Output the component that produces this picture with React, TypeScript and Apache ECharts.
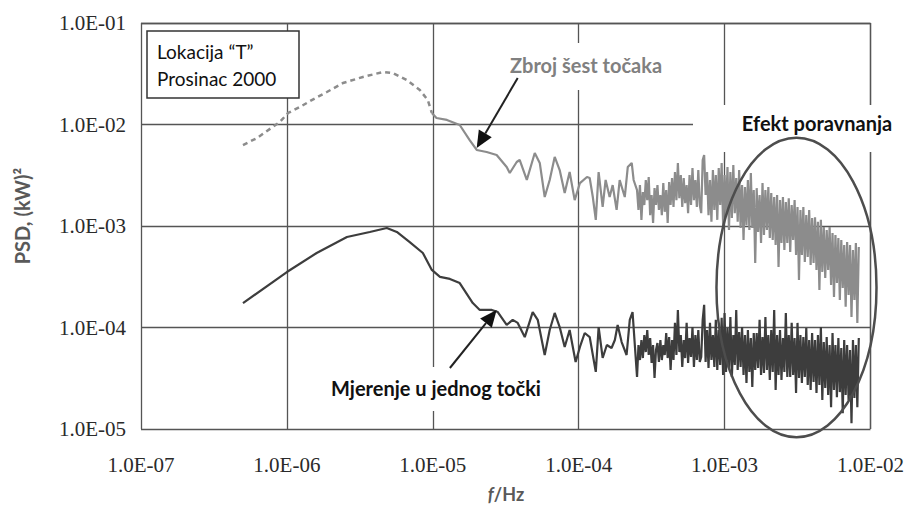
import React, { useEffect, useRef } from "react";
import * as echarts from "echarts";

// Summed spectrum of six points ("Zbroj šest točaka"), frequency in Hz, PSD in (kW)^2
const sumFreq = [
  5.0e-7, 6.24e-7, 8.95e-7, 1.02e-6, 1.23e-6, 1.48e-6, 1.88e-6, 2.42e-6, 3.32e-6, 4.55e-6,
  5.32e-6, 6.64e-6, 8.15e-6, 9.24e-6, 9.85e-6, 1.06e-5, 1.25e-5, 1.53e-5, 1.79e-5, 2.0e-5,
  2.34e-5, 2.74e-5, 3.21e-5, 3.37e-5, 3.76e-5, 3.94e-5, 4.41e-5, 5.0e-5, 5.41e-5, 5.85e-5,
  6.33e-5, 6.85e-5, 7.41e-5, 8.02e-5, 8.67e-5, 9.39e-5, 1.02e-4, 1.14e-4, 1.19e-4, 1.25e-4,
  1.31e-4, 1.37e-4, 1.46e-4, 1.53e-4, 1.63e-4, 1.71e-4, 1.82e-4, 1.91e-4, 2.07e-4, 2.17e-4,
  2.31e-4, 2.38e-4,
];
const sumPsd = [
  6.28e-3, 7.36e-3, 1.06e-2, 1.3e-2, 1.49e-2, 1.74e-2, 2.09e-2, 2.56e-2, 2.94e-2, 3.29e-2,
  3.21e-2, 2.74e-2, 2.19e-2, 1.74e-2, 1.3e-2, 1.16e-2, 1.11e-2, 9.89e-3, 7.03e-3, 5.61e-3,
  5.36e-3, 5.01e-3, 3.81e-3, 3.33e-3, 4.27e-3, 4.47e-3, 2.84e-3, 5.24e-3, 4.18e-3, 1.93e-3,
  2.84e-3, 4.79e-3, 3.56e-3, 2.11e-3, 3.4e-3, 1.8e-3, 2.65e-3, 3.04e-3, 2.97e-3, 1.93e-3,
  1.15e-3, 3.4e-3, 1.54e-3, 2.84e-3, 1.93e-3, 2.53e-3, 1.44e-3, 2.84e-3, 1.93e-3, 3.81e-3,
  4.18e-3, 2.84e-3,
];

// Single measurement point ("Mjerenje u jednog točki")
const singleFreq = [
  5.0e-7, 1.0e-6, 1.6e-6, 2.58e-6, 3.7e-6, 4.84e-6, 5.67e-6, 6.95e-6, 8.55e-6, 9.85e-6,
  1.12e-5, 1.31e-5, 1.53e-5, 1.88e-5, 2.1e-5, 2.54e-5, 2.79e-5, 3.21e-5, 3.53e-5, 3.82e-5,
  4.27e-5, 4.84e-5, 5.24e-5, 5.85e-5, 6.33e-5, 6.85e-5, 7.41e-5, 8.02e-5, 8.67e-5, 9.53e-5,
  1.02e-4, 1.1e-4, 1.19e-4, 1.31e-4, 1.37e-4, 1.46e-4, 1.56e-4, 1.68e-4, 1.77e-4, 1.85e-4,
  1.97e-4, 2.13e-4, 2.24e-4, 2.34e-4,
];
const singlePsd = [
  1.74e-4, 3.52e-4, 5.42e-4, 7.8e-4, 8.73e-4, 9.55e-4, 8.73e-4, 6.95e-4, 5.42e-4, 3.69e-4,
  3.15e-4, 3.01e-4, 2.74e-4, 1.74e-4, 1.49e-4, 1.49e-4, 1.42e-4, 1.06e-4, 1.19e-4, 1.11e-4,
  8.05e-5, 1.42e-4, 1.19e-4, 5.36e-5, 9.45e-5, 1.39e-4, 1.01e-4, 6.43e-5, 9.45e-5, 4.57e-5,
  6.43e-5, 8.83e-5, 8.05e-5, 3.65e-5, 1.01e-4, 5.01e-5, 6.72e-5, 6.28e-5, 7.53e-5, 1.06e-4,
  7.19e-5, 5.36e-5, 1.19e-4, 1.42e-4,
];

// High-frequency band (dense FFT bins), shared by both spectra
const bandFreq = [
  2.512e-4, 2.57e-4, 2.63e-4, 2.692e-4, 2.754e-4, 2.818e-4, 2.884e-4, 2.951e-4, 3.02e-4, 3.09e-4,
  3.162e-4, 3.236e-4, 3.311e-4, 3.388e-4, 3.467e-4, 3.548e-4, 3.631e-4, 3.715e-4, 3.802e-4, 3.89e-4,
  3.981e-4, 4.074e-4, 4.169e-4, 4.266e-4, 4.365e-4, 4.467e-4, 4.571e-4, 4.677e-4, 4.786e-4, 4.898e-4,
  5.012e-4, 5.129e-4, 5.248e-4, 5.37e-4, 5.495e-4, 5.623e-4, 5.754e-4, 5.888e-4, 6.026e-4, 6.166e-4,
  6.31e-4, 6.457e-4, 6.607e-4, 6.761e-4,
  6.918e-4, 7.079e-4, 7.244e-4, 7.413e-4, 7.586e-4, 7.762e-4, 7.943e-4, 8.128e-4, 8.318e-4, 8.511e-4,
  8.71e-4, 8.913e-4, 9.12e-4, 9.333e-4, 9.55e-4, 9.772e-4, 1.0e-3, 1.023e-3, 1.047e-3, 1.072e-3,
  1.096e-3, 1.122e-3, 1.148e-3, 1.175e-3, 1.202e-3, 1.23e-3, 1.259e-3, 1.288e-3, 1.318e-3, 1.349e-3,
  1.38e-3, 1.413e-3, 1.445e-3, 1.479e-3, 1.514e-3, 1.549e-3, 1.585e-3, 1.622e-3, 1.66e-3, 1.698e-3,
  1.738e-3, 1.778e-3, 1.82e-3, 1.862e-3, 1.905e-3, 1.95e-3, 1.995e-3, 2.042e-3, 2.089e-3, 2.138e-3,
  2.188e-3, 2.239e-3, 2.291e-3, 2.344e-3, 2.399e-3, 2.455e-3, 2.512e-3, 2.57e-3, 2.63e-3, 2.692e-3,
  2.754e-3, 2.818e-3, 2.884e-3, 2.951e-3, 3.02e-3, 3.09e-3, 3.162e-3, 3.236e-3, 3.311e-3, 3.388e-3,
  3.467e-3, 3.548e-3, 3.631e-3, 3.715e-3, 3.802e-3, 3.89e-3, 3.981e-3, 4.074e-3, 4.169e-3, 4.266e-3,
  4.365e-3, 4.467e-3, 4.571e-3, 4.677e-3, 4.786e-3, 4.898e-3, 5.012e-3, 5.129e-3, 5.248e-3, 5.37e-3,
  5.495e-3, 5.623e-3, 5.754e-3, 5.888e-3, 6.026e-3, 6.166e-3, 6.31e-3, 6.457e-3, 6.607e-3, 6.761e-3,
  6.918e-3, 7.079e-3, 7.244e-3, 7.413e-3, 7.586e-3, 7.762e-3, 7.943e-3, 8.128e-3, 8.318e-3,
];
const sumBandPsd = [
  2.26e-3, 1.44e-3, 2.53e-3, 1.15e-3, 2.16e-3, 1.61e-3, 2.84e-3, 1.8e-3, 3.04e-3, 1.28e-3,
  2.02e-3, 1.07e-3, 2.36e-3, 1.61e-3, 2.53e-3, 1.44e-3, 2.02e-3, 1.28e-3, 2.65e-3, 1.38e-3,
  2.26e-3, 1.07e-3, 2.71e-3, 1.61e-3, 2.97e-3, 1.54e-3, 3.4e-3, 1.8e-3, 4.18e-3, 1.88e-3,
  3.18e-3, 1.54e-3, 2.97e-3, 1.68e-3, 2.53e-3, 1.34e-3, 3.18e-3, 1.61e-3, 3.73e-3, 1.8e-3,
  2.84e-3, 1.54e-3, 3.56e-3, 1.61e-3,
  1.34e-3, 4.47e-3, 5.01e-3, 2.02e-3, 3.4e-3, 1.28e-3, 2.84e-3, 1.1e-3, 3.56e-3, 1.44e-3,
  3.18e-3, 1.15e-3, 3.73e-3, 1.61e-3, 4.18e-3, 1.02e-3, 3.18e-3, 1.28e-3, 3.81e-3, 9.14e-4,
  3.4e-3, 1.2e-3, 3.99e-3, 1.34e-3, 2.97e-3, 1.1e-3, 3.56e-3, 9.56e-4, 2.53e-3, 7.28e-4,
  2.42e-3, 1.02e-3, 2.84e-3, 9.14e-4, 3.33e-3, 9.56e-4, 2.26e-3, 4.32e-4, 2.36e-3, 8.74e-4,
  2.02e-3, 6.8e-4, 2.65e-3, 8.15e-4, 2.26e-3, 9.14e-4, 2.42e-3, 7.62e-4, 2.11e-3, 7.28e-4,
  1.93e-3, 6.5e-4, 2.02e-3, 3.95e-4, 1.8e-3, 6.8e-4, 1.93e-3, 5.8e-4, 1.72e-3, 6.8e-4,
  1.88e-3, 5.54e-4, 1.61e-3, 7.28e-4, 1.8e-3, 5.18e-4, 1.54e-3, 2.94e-4, 1.44e-3, 5.18e-4,
  1.54e-3, 4.42e-4, 1.28e-3, 4.95e-4, 1.44e-3, 4.13e-4, 1.2e-3, 4.32e-4, 1.22e-3, 3.69e-4,
  1.1e-3, 2.34e-4, 1.15e-3, 3.53e-4, 9.75e-4, 3.08e-4, 9.14e-4, 3.69e-4, 9.75e-4, 2.62e-4,
  8.53e-4, 2.0e-4, 8.15e-4, 2.74e-4, 7.62e-4, 1.87e-4, 7.28e-4, 2.45e-4, 6.5e-4, 1.6e-4,
  6.96e-4, 2.09e-4, 6.5e-4, 1.27e-4, 5.8e-4, 1.87e-4, 6.8e-4, 1.11e-4, 6.21e-4,
];
const singleBandPsd = [
  3.25e-5, 6.72e-5, 4.78e-5, 7.53e-5, 5.0e-5, 8.43e-5, 5.73e-5, 9.45e-5, 5.36e-5, 7.88e-5,
  4.47e-5, 6.72e-5, 3.18e-5, 6.0e-5, 7.03e-5, 4.57e-5, 7.53e-5, 4.78e-5, 6.72e-5, 5.36e-5,
  8.82e-5, 5.0e-5, 8.06e-5, 3.81e-5, 7.53e-5, 4.78e-5, 1.11e-4, 5.36e-5, 1.49e-4, 5.73e-5,
  8.43e-5, 4.08e-5, 7.53e-5, 5.0e-5, 1.11e-4, 4.47e-5, 7.88e-5, 5.12e-5, 1.01e-4, 4.08e-5,
  8.43e-5, 4.78e-5, 9.45e-5, 4.57e-5,
  5.12e-5, 1.19e-4, 1.67e-4, 4.57e-5, 9.45e-5, 3.99e-5, 1.11e-4, 4.78e-5, 8.43e-5, 4.08e-5,
  1.19e-4, 3.81e-5, 9.45e-5, 4.27e-5, 1.25e-4, 3.4e-5, 1.39e-4, 3.64e-5, 9.89e-5, 3.99e-5,
  1.27e-4, 3.25e-5, 8.43e-5, 4.27e-5, 1.49e-4, 3.81e-5, 9.03e-5, 4.08e-5, 1.01e-4, 3.4e-5,
  8.43e-5, 2.84e-5, 9.45e-5, 3.64e-5, 7.88e-5, 2.59e-5, 8.82e-5, 3.81e-5, 8.82e-5, 3.99e-5,
  1.19e-4, 3.4e-5, 8.06e-5, 3.56e-5, 1.27e-4, 3.81e-5, 8.43e-5, 3.04e-5, 9.45e-5, 3.64e-5,
  1.49e-4, 2.42e-5, 8.43e-5, 3.4e-5, 9.45e-5, 3.04e-5, 7.88e-5, 3.64e-5, 1.39e-4, 3.25e-5,
  8.43e-5, 3.25e-5, 1.11e-4, 3.4e-5, 7.88e-5, 2.26e-5, 1.11e-4, 3.18e-5, 8.43e-5, 2.84e-5,
  8.06e-5, 3.25e-5, 9.89e-5, 2.71e-5, 7.53e-5, 2.42e-5, 8.82e-5, 2.91e-5, 7.53e-5, 2.26e-5,
  8.43e-5, 2.71e-5, 1.01e-4, 1.93e-5, 7.2e-5, 2.53e-5, 8.06e-5, 2.16e-5, 6.72e-5, 1.64e-5,
  8.82e-5, 2.42e-5, 6.72e-5, 2.06e-5, 7.88e-5, 2.31e-5, 6.28e-5, 1.43e-5, 7.53e-5, 2.16e-5,
  6.72e-5, 1.93e-5, 6.0e-5, 1.14e-5, 7.53e-5, 2.02e-5, 6.72e-5, 1.64e-5, 7.88e-5,
];

// Below this frequency the summed spectrum is drawn dashed
const dashedUpTo = 9.85e-6;

// Annotation anchors in data space [f, PSD]
const sumArrow = { tail: [3.82e-5, 2.87e-2], tip: [2.0e-5, 5.86e-3] };
const singleArrow = { tail: [1.31e-5, 3.99e-5], tip: [2.74e-5, 1.49e-4] };
const smoothingRegion = { fMin: 8.8e-4, fMax: 1.1e-2, pMin: 8.3e-6, pMax: 7.4e-3 };

const sciLabel = (v: number) => {
  const e = Math.round(Math.log10(v));
  return `1.0E${e < 0 ? "-" : "+"}${String(Math.abs(e)).padStart(2, "0")}`;
};

const pairs = (xs: number[], ys: number[]) => xs.map((x, i) => [x, ys[i]]);

const GRID_LINE = { color: "#555", width: 1.3 };
const TICK_FONT = { fontFamily: "Liberation Serif", fontSize: 21, color: "#2a2a2a" };
const NOTE_FONT = "Lato";

export default function App() {
  const ref = useRef<HTMLDivElement>(null);

  useEffect(() => {
    const chart = echarts.init(ref.current!, null, { renderer: "svg" });
    const sumData = pairs(sumFreq, sumPsd).concat(pairs(bandFreq, sumBandPsd));
    const singleData = pairs(singleFreq, singlePsd).concat(pairs(bandFreq, singleBandPsd));

    chart.setOption({
      animation: false,
      backgroundColor: "#fff",
      grid: { left: 141, right: 36, top: 23, bottom: 77, containLabel: false },
      xAxis: {
        type: "log",
        logBase: 10,
        min: 1e-7,
        max: 1e-2,
        axisLine: { show: false },
        axisTick: { show: false },
        splitLine: { show: true, lineStyle: GRID_LINE },
        axisLabel: { ...TICK_FONT, margin: 25, formatter: sciLabel },
      },
      yAxis: {
        type: "log",
        logBase: 10,
        min: 1e-5,
        max: 1e-1,
        axisLine: { show: false },
        axisTick: { show: false },
        splitLine: { show: true, lineStyle: GRID_LINE },
        axisLabel: { ...TICK_FONT, margin: 15, formatter: sciLabel },
      },
      series: [
        {
          name: "Zbroj šest točaka (niske frekvencije)",
          type: "line",
          data: sumData.filter((d) => d[0] <= dashedUpTo),
          showSymbol: false,
          symbol: "none",
          lineStyle: { color: "#8c8c8c", width: 2.5, type: [5, 4] },
          z: 2,
        },
        {
          name: "Zbroj šest točaka",
          type: "line",
          data: sumData.filter((d) => d[0] >= dashedUpTo),
          showSymbol: false,
          symbol: "none",
          lineStyle: { color: "#8c8c8c", width: 2.2 },
          z: 2,
        },
        {
          name: "Mjerenje u jednog točki",
          type: "line",
          data: singleData,
          showSymbol: false,
          symbol: "none",
          lineStyle: { color: "#3d3d3d", width: 2.2 },
          z: 3,
        },
      ],
    });

    const toPx = (d: number[]) => chart.convertToPixel({ gridIndex: 0 }, d) as number[];

    const arrow = (a: { tail: number[]; tip: number[] }) => {
      const t0 = toPx(a.tail);
      const t1 = toPx(a.tip);
      const dx = t1[0] - t0[0];
      const dy = t1[1] - t0[1];
      const len = Math.hypot(dx, dy);
      const ux = dx / len;
      const uy = dy / len;
      const headLen = 17;
      const half = 7.5;
      const bx = t1[0] - ux * headLen;
      const by = t1[1] - uy * headLen;
      return [
        {
          type: "line",
          z: 20,
          shape: { x1: t0[0], y1: t0[1], x2: bx, y2: by },
          style: { stroke: "#222", lineWidth: 2 },
        },
        {
          type: "polygon",
          z: 20,
          shape: {
            points: [
              [t1[0], t1[1]],
              [bx - uy * half, by + ux * half],
              [bx + uy * half, by - ux * half],
            ],
          },
          style: { fill: "#111" },
        },
      ];
    };

    const eA = toPx([smoothingRegion.fMin, smoothingRegion.pMax]);
    const eB = toPx([smoothingRegion.fMax, smoothingRegion.pMin]);

    const whiteBox = (x: number, y: number, w: number, h: number) => ({
      type: "rect",
      z: 1,
      shape: { x, y, width: w, height: h },
      style: { fill: "#fff" },
    });

    const note = (text: string, x: number, y: number, fill: string) => ({
      type: "text",
      z: 20,
      x,
      y,
      style: {
        text,
        fill,
        font: `bold 20px ${NOTE_FONT}`,
        textAlign: "center",
        textVerticalAlign: "middle",
      },
    });

    chart.setOption({
      graphic: [
        // white backing behind the annotations
        whiteBox(500, 43, 170, 47),
        whiteBox(693, 105, 192, 47),
        whiteBox(320, 367, 230, 44),
        // location / period box
        {
          type: "rect",
          z: 15,
          shape: { x: 147, y: 31, width: 152, height: 67 },
          style: { fill: "#fff", stroke: "#333", lineWidth: 1.5 },
        },
        {
          type: "text",
          z: 16,
          x: 157,
          y: 51,
          style: { text: "Lokacija “T”", fill: "#111", font: `19px ${NOTE_FONT}`, textVerticalAlign: "middle" },
        },
        {
          type: "text",
          z: 16,
          x: 157,
          y: 78,
          style: { text: "Prosinac 2000", fill: "#111", font: `19px ${NOTE_FONT}`, textVerticalAlign: "middle" },
        },
        note("Zbroj šest točaka", 586, 65, "#808080"),
        note("Efekt poravnanja", 817, 123, "#111"),
        note("Mjerenje u jednog točki", 436, 388, "#111"),
        ...arrow(sumArrow),
        ...arrow(singleArrow),
        {
          type: "ellipse",
          z: 20,
          shape: {
            cx: (eA[0] + eB[0]) / 2,
            cy: (eA[1] + eB[1]) / 2,
            rx: Math.abs(eB[0] - eA[0]) / 2,
            ry: Math.abs(eB[1] - eA[1]) / 2,
          },
          style: { fill: "none", stroke: "#4d4d4d", lineWidth: 2.5 },
        },
        // axis titles
        {
          type: "text",
          z: 20,
          x: 22,
          y: 216,
          rotation: Math.PI / 2,
          style: {
            text: "PSD, (kW)²",
            fill: "#595959",
            font: `bold 20px ${NOTE_FONT}`,
            textAlign: "center",
            textVerticalAlign: "middle",
          },
        },
        {
          type: "text",
          z: 20,
          x: 506,
          y: 494,
          style: {
            text: "{i|f}/Hz",
            fill: "#595959",
            font: `bold 18px ${NOTE_FONT}`,
            textAlign: "center",
            textVerticalAlign: "middle",
            rich: {
              i: { fontStyle: "italic", fontWeight: "bold", fontSize: 18, fontFamily: NOTE_FONT, fill: "#595959" },
            },
          },
        },
      ],
    });

    return () => chart.dispose();
  }, []);

  return (
    <div
      ref={ref}
      style={{ position: "fixed", left: 0, top: 0, width: 907, height: 506, background: "#fff" }}
    />
  );
}
